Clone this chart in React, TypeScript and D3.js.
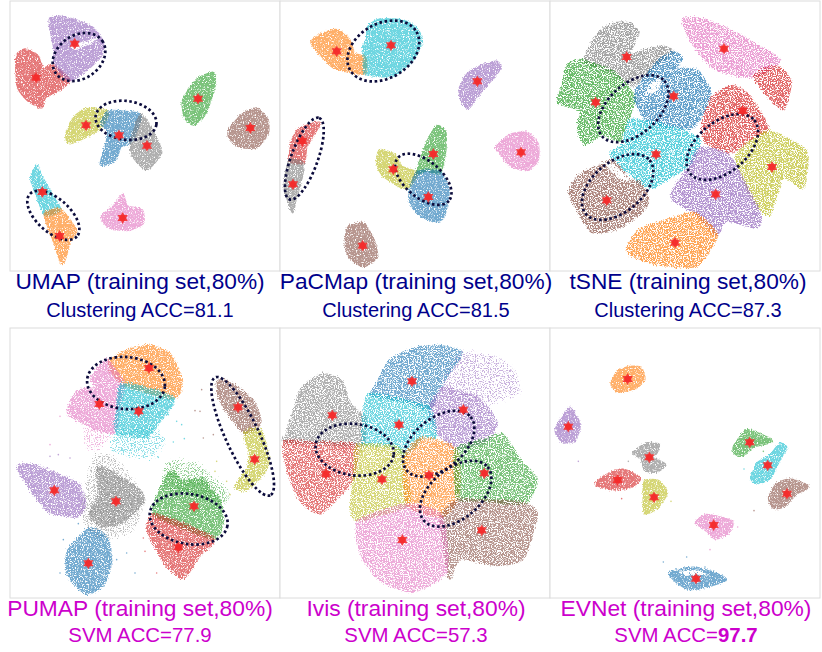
import * as d3 from "d3";

type Pt = [number, number];
type Blob = [string, Pt[]];
type Ring = [number, number, number, number, number];

const classNames = ["blue", "orange", "green", "red", "purple", "brown", "pink", "gray", "olive", "cyan"];

// outlines of each cluster, in each panel's own units
const umapBlobs: Blob[] = [
  ["red", [[50,170],[75,148],[110,165],[130,205],[160,195],[208,240],[175,270],[135,290],[125,320],[85,300],[55,260]]],
  ["purple", [[150,58],[180,50],[230,62],[280,85],[310,130],[300,170],[250,215],[208,240],[165,190],[165,150],[155,100]]],
  ["olive", [[200,400],[225,350],[265,325],[322,335],[310,370],[285,395],[210,428]]],
  ["blue", [[322,335],[370,335],[422,345],[395,420],[360,440],[345,480],[303,492],[320,430],[325,390],[305,370]]],
  ["gray", [[422,345],[450,380],[475,430],[482,460],[440,507],[398,465],[395,420]]],
  ["green", [[550,300],[590,240],[640,218],[642,260],[615,340],[580,372],[555,350]]],
  ["brown", [[688,390],[725,345],[770,325],[802,360],[802,400],[770,440],[720,438],[690,415]]],
  ["cyan", [[110,495],[122,525],[150,575],[180,628],[135,642],[110,580],[95,535]]],
  ["orange", [[135,642],[180,628],[228,690],[208,725],[187,790],[160,715]]],
  ["pink", [[305,650],[340,620],[368,585],[380,618],[425,630],[428,668],[385,688],[330,682]]],
];
const umapCenters: Pt[] = [[108,232],[224,130],[258,375],[357,405],[441,436],[594,295],[751,383],[127,575],[179,707],[368,653]];
const umapRings: Ring[] = [[237,170,85,65,-35],[378,360,92,58,8],[160,645,95,50,42]];
const umapHoles: Pt[][] = [[[215,135],[270,118],[300,112],[262,135],[225,150]]];

const pacmapBlobs: Blob[] = [
  ["orange", [[95,125],[130,100],[170,90],[205,115],[222,160],[255,172],[255,218],[215,215],[160,200],[125,165]]],
  ["cyan", [[265,80],[300,58],[370,62],[410,85],[425,125],[395,180],[340,225],[285,225],[255,218],[255,170],[250,145],[262,115]]],
  ["purple", [[540,265],[565,220],[610,195],[650,185],[660,205],[610,265],[565,322],[545,300]]],
  ["red", [[38,420],[60,385],[118,368],[95,410],[78,440],[70,488],[30,480]]],
  ["gray", [[30,480],[70,488],[60,550],[45,600],[38,635],[25,600],[15,560],[20,515]]],
  ["pink", [[650,440],[690,405],[740,398],[772,430],[772,480],[740,508],[690,495],[660,455]]],
  ["green", [[472,378],[495,395],[495,450],[480,515],[440,510],[410,518],[430,460],[450,410]]],
  ["olive", [[292,490],[300,450],[345,465],[365,500],[410,518],[390,555],[365,560],[310,525]]],
  ["blue", [[410,518],[440,510],[480,515],[505,570],[490,650],[460,662],[415,640],[390,600],[395,555]]],
  ["brown", [[205,682],[250,670],[280,720],[290,770],[250,797],[210,770],[198,735]]],
];
const pacmapCenters: Pt[] = [[170,153],[333,135],[592,243],[67,422],[39,552],[723,456],[460,461],[340,507],[445,590],[248,736]];
const pacmapRings: Ring[] = [[310,152,115,82,-30],[73,475,130,40,-70],[430,537,100,55,40]];

const tsneBlobs: Blob[] = [
  ["gray", [[150,95],[195,70],[240,70],[265,95],[240,165],[285,150],[340,140],[368,155],[320,190],[250,255],[190,215],[105,180]]],
  ["green", [[55,195],[95,180],[190,215],[255,290],[240,340],[210,420],[160,400],[105,430],[85,375],[95,330],[25,305],[40,255]]],
  ["blue", [[368,155],[395,175],[380,205],[440,210],[480,270],[470,320],[430,380],[380,380],[300,365],[260,310],[260,270],[320,190]]],
  ["cyan", [[240,360],[300,365],[380,385],[450,420],[420,490],[370,525],[310,560],[270,545],[185,465],[215,440],[225,410]]],
  ["brown", [[165,490],[190,480],[240,540],[270,545],[295,600],[270,640],[200,685],[130,695],[90,640],[60,575],[90,525]]],
  ["pink", [[400,58],[470,60],[550,95],[620,135],[690,180],[620,225],[560,225],[490,200],[430,130]]],
  ["red", [[615,225],[680,200],[722,240],[700,325],[650,280]]],
  ["red", [[490,290],[550,258],[600,290],[655,385],[610,410],[545,455],[470,425],[460,370]]],
  ["olive", [[650,395],[700,410],[770,455],[760,560],[700,530],[660,640],[620,610],[560,470]]],
  ["purple", [[450,445],[530,460],[570,520],[630,640],[620,680],[530,660],[500,700],[440,640],[365,590],[420,500]]],
  ["orange", [[400,645],[440,640],[500,705],[440,795],[320,790],[235,755],[270,690]]],
];
const tsneCenters: Pt[] = [[230,170],[137,306],[371,288],[318,462],[170,600],[522,145],[578,332],[666,500],[497,582],[375,727]];
const tsneRings: Ring[] = [[250,325,125,75,-42],[517,440,125,75,-40],[203,560,125,75,-40]];
const tsneHoles: Pt[][] = [
  [[165,490],[190,490],[240,540],[200,530]],
  [[300,250],[335,235],[325,270],[285,285]],
];

const pumapBlobs: Blob[] = [
  ["orange", [[328,115],[380,80],[450,65],[510,90],[545,170],[520,220],[370,178]]],
  ["pink", [[315,110],[330,115],[370,178],[355,250],[345,322],[285,310],[205,265],[235,200],[290,190],[275,160]]],
  ["cyan", [[370,178],[520,220],[470,300],[440,335],[350,322],[355,250]]],
  ["brown", [[655,170],[690,175],[760,230],[780,295],[735,325],[690,270],[660,220]]],
  ["olive", [[735,325],[780,315],[805,400],[790,445],[740,495],[708,485],[745,430],[750,380]]],
  ["purple", [[55,430],[90,420],[160,445],[235,480],[255,540],[230,575],[150,560],[105,510]]],
  ["gray", [[295,430],[350,450],[420,500],[430,530],[370,590],[310,605],[270,570],[300,510]]],
  ["green", [[515,440],[550,470],[610,465],[660,530],[668,590],[640,640],[465,570],[480,500]]],
  ["red", [[465,570],[640,640],[600,690],[550,760],[500,720],[445,620]]],
  ["blue", [[270,612],[320,640],[332,710],[310,780],[260,805],[205,750],[205,680]]],
];
const pumapFaint: Blob[] = [
  ["gray", [[285,395],[350,400],[440,520],[400,620],[300,640],[250,570]]],
  ["cyan", [[345,330],[470,310],[500,350],[460,400],[345,380]]],
  ["pink", [[260,310],[340,325],[300,375],[265,370]]],
  ["green", [[510,410],[600,420],[690,500],[670,540],[500,480]]],
];
const pumapCenters: Pt[] = [[447,130],[298,238],[416,260],[714,248],[764,404],[163,497],[348,530],[582,545],[535,668],[265,716]];
const pumapRings: Ring[] = [[378,175,117,78,5],[728,335,195,50,65],[566,583,118,75,10]];
const pumapStrays: [string, number, number][] = [
  ["cyan",553,342],["cyan",520,352],["cyan",475,398],["cyan",530,290],["cyan",545,300],["cyan",505,270],
  ["brown",585,258],["brown",605,195],["brown",640,330],["brown",610,340],["brown",600,260],
  ["olive",650,410],["olive",680,470],["olive",645,440],["olive",690,510],
  ["blue",380,685],["blue",405,745],["blue",350,705],["blue",190,645],["blue",180,745],["blue",235,597],
  ["red",435,680],["red",430,640],["red",470,745],
  ["purple",175,390],["purple",210,400],["purple",150,395],
  ["pink",180,275],["pink",150,360],
];

const ivisBlobs: Blob[] = [
  ["blue", [[285,190],[330,110],[410,70],[480,65],[545,85],[490,170],[450,250],[380,230],[275,210]]],
  ["purple", [[490,190],[530,200],[600,225],[650,290],[625,345],[530,370],[470,320],[450,250]]],
  ["gray", [[25,320],[65,195],[130,150],[185,170],[210,240],[255,280],[250,365],[230,362],[110,355],[15,350]]],
  ["red", [[15,352],[110,355],[230,362],[215,470],[120,565],[60,520],[25,440]]],
  ["cyan", [[265,210],[380,230],[450,250],[468,335],[430,340],[378,390],[340,365],[270,360],[250,350]]],
  ["olive", [[270,360],[340,365],[378,390],[375,440],[385,540],[235,585],[215,550],[225,430],[230,365]]],
  ["orange", [[378,390],[430,340],[530,375],[535,520],[485,575],[385,540]]],
  ["green", [[530,375],[620,345],[670,330],[720,405],[770,465],[735,535],[600,525],[535,520]]],
  ["brown", [[535,525],[600,528],[730,535],[770,570],[730,700],[650,720],[540,700],[510,760],[490,640],[485,575]]],
  ["pink", [[235,590],[385,540],[485,575],[500,740],[400,800],[310,770],[250,700]]],
];
const ivisFaint: Blob[] = [
  ["purple", [[545,85],[640,95],[700,125],[728,195],[650,235],[600,225],[490,190]]],
];
const ivisCenters: Pt[] = [[396,170],[550,255],[157,272],[357,300],[138,448],[306,464],[447,452],[613,446],[605,617],[367,646]];
const ivisRings: Ring[] = [[224,375,118,77,8],[476,357,125,75,-40],[527,507,125,75,-40]];

const evnetBlobs: Blob[] = [
  ["orange", [[185,175],[205,140],[240,128],[272,130],[282,165],[255,190],[205,200]]],
  ["purple", [[18,315],[60,250],[88,300],[75,345],[40,352]]],
  ["gray", [[250,385],[290,357],[325,360],[320,385],[300,395],[345,420],[320,440],[285,435],[275,400]]],
  ["red", [[138,478],[170,452],[218,436],[270,460],[245,485],[190,494]]],
  ["olive", [[285,470],[325,470],[350,505],[320,550],[285,565],[282,520]]],
  ["green", [[553,365],[590,318],[625,328],[665,350],[610,365],[575,392],[555,385]]],
  ["cyan", [[605,460],[625,415],[660,395],[690,358],[708,370],[685,410],[660,460],[620,475]]],
  ["brown", [[658,520],[680,480],[720,465],[775,485],[740,505],[700,545],[670,548]]],
  ["pink", [[438,595],[470,572],[545,590],[535,625],[495,640],[465,610]]],
  ["blue", [[360,745],[430,730],[490,745],[527,765],[470,785],[420,792],[385,775]]],
];
const evnetCenters: Pt[] = [[233,163],[55,306],[298,398],[203,466],[312,518],[599,353],[653,422],[711,507],[491,601],[438,762]];
const evnetHoles: Pt[][] = [[[385,742],[440,737],[478,752],[445,750],[410,752]]];
const evnetStrays: [string, number, number][] = [
  ["purple",85,410],["gray",235,410],["red",215,522],["olive",363,530],["cyan",582,433],["green",640,380],
  ["brown",612,558],["pink",563,607],["pink",480,675],["blue",340,712],["blue",410,697],["blue",465,727],
];

const topTitles = ["UMAP (training set,80%)", "PaCMap (training set,80%)", "tSNE (training set,80%)"];
const topScores = ["Clustering ACC=81.1", "Clustering ACC=81.5", "Clustering ACC=87.3"];
const bottomTitles = ["PUMAP (training set,80%)", "Ivis (training set,80%)", "EVNet (training set,80%)"];
const bottomScores = ["SVM ACC=77.9", "SVM ACC=57.3", "SVM ACC="];

const color = d3.scaleOrdinal<string, string>().domain(classNames).range(d3.schemeCategory10);
const outline = d3.line().curve(d3.curveCardinalClosed.tension(0.4));
const triangle = d3.symbol().type(d3.symbolTriangle).size(46);

const PANEL = 270;

// noise only gives the fill its grain and frayed edge, the shapes come from the outlines
function Grain({ id, slope, keep, fray, seed }: { id: string; slope: number; keep: number; fray: number; seed: number }) {
  return (
    <filter id={id} x="-15%" y="-15%" width="130%" height="130%" colorInterpolationFilters="sRGB">
      <feTurbulence type="fractalNoise" baseFrequency="0.85" numOctaves="2" seed={seed} result="noise" />
      <feDisplacementMap in="SourceGraphic" in2="noise" scale={fray} xChannelSelector="R" yChannelSelector="G" result="frayed" />
      <feColorMatrix in="noise" type="matrix" values={`0 0 0 0 0  0 0 0 0 0  0 0 0 0 0  ${slope} 0 0 0 ${keep}`} result="mask" />
      <feComposite in="frayed" in2="mask" operator="in" result="grained" />
      <feGaussianBlur in="grained" stdDeviation="0.4" />
    </filter>
  );
}

function Panel(props: {
  left: number; top: number; x0: number; y0: number;
  blobs: Blob[]; faint?: Blob[]; holes?: Pt[][]; strays?: [string, number, number][];
  centers: Pt[]; rings?: Ring[]; grain: string; opacity: number;
}) {
  const { left, top, x0, y0, blobs, faint = [], holes = [], strays = [], centers, rings = [], grain, opacity } = props;
  const x = d3.scaleLinear().domain([x0, x0 + 810]).range([left, left + PANEL]);
  const y = d3.scaleLinear().domain([y0, y0 + 810]).range([top, top + PANEL]);
  const toPath = (pts: Pt[]) => outline(pts.map(([a, b]) => [x(a), y(b)] as Pt)) ?? "";

  return (
    <g>
      <rect x={left} y={top} width={PANEL} height={PANEL} fill="#fff" stroke="#dcdcdc" strokeWidth="1" />
      {faint.map(([name, pts], i) => (
        <path key={`f${i}`} d={toPath(pts)} fill={color(name)} opacity="0.5" filter="url(#grain-faint)" />
      ))}
      {blobs.map(([name, pts], i) => (
        <path key={i} d={toPath(pts)} fill={color(name)} stroke={color(name)} strokeWidth="3" strokeLinejoin="round" opacity={opacity} filter={`url(#${grain})`} />
      ))}
      {holes.map((pts, i) => (
        <path key={`h${i}`} d={toPath(pts)} fill="#fff" filter="url(#grain-hole)" />
      ))}
      {strays.map(([name, a, b], i) => (
        <circle key={`s${i}`} cx={x(a)} cy={y(b)} r="0.8" fill={color(name)} fillOpacity="0.6" />
      ))}
      {rings.map(([cx, cy, rx, ry, angle], i) => (
        <ellipse
          key={`r${i}`}
          cx={x(cx)}
          cy={y(cy)}
          rx={x(cx + rx) - x(cx)}
          ry={y(cy + ry) - y(cy)}
          transform={`rotate(${angle} ${x(cx)} ${y(cy)})`}
          fill="none"
          stroke="#0c0c3c"
          strokeWidth="2.7"
          strokeDasharray="2.6 2.6"
        />
      ))}
      {centers.map(([a, b], i) => (
        <g key={`c${i}`} transform={`translate(${x(a)},${y(b)})`} fill="#f52a2a" fillOpacity="0.85">
          <path d={triangle() ?? ""} />
          <path d={triangle() ?? ""} transform="rotate(180)" />
        </g>
      ))}
    </g>
  );
}

export default function App() {
  const centersX = [140, 416, 688];
  const centersXLow = [140, 416, 686];
  const font = "Liberation Sans, Arial, sans-serif";

  return (
    <svg width={822} height={652} style={{ position: "absolute", left: 0, top: 0, background: "#fff" }}>
      <defs>
        <Grain id="grain-dense" slope={5} keep={-1.3} fray={4} seed={3} />
        <Grain id="grain-mid" slope={6} keep={-1.9} fray={7} seed={5} />
        <Grain id="grain-sparse" slope={8} keep={-3.2} fray={6} seed={8} />
        <Grain id="grain-faint" slope={10} keep={-5.2} fray={14} seed={11} />
        <Grain id="grain-hole" slope={8} keep={-2.6} fray={4} seed={13} />
      </defs>

      <Panel left={10} top={1} x0={30} y0={2} blobs={umapBlobs} holes={umapHoles} centers={umapCenters} rings={umapRings} grain="grain-dense" opacity={0.62} />
      <Panel left={280} top={1} x0={0} y0={2} blobs={pacmapBlobs} centers={pacmapCenters} rings={pacmapRings} grain="grain-dense" opacity={0.62} />
      <Panel left={550} top={1} x0={0} y0={2} blobs={tsneBlobs} holes={tsneHoles} centers={tsneCenters} rings={tsneRings} grain="grain-sparse" opacity={0.7} />
      <Panel left={10} top={328} x0={30} y0={10} blobs={pumapBlobs} faint={pumapFaint} strays={pumapStrays} centers={pumapCenters} rings={pumapRings} grain="grain-mid" opacity={0.62} />
      <Panel left={280} top={328} x0={0} y0={10} blobs={ivisBlobs} faint={ivisFaint} centers={ivisCenters} rings={ivisRings} grain="grain-sparse" opacity={0.62} />
      <Panel left={550} top={328} x0={0} y0={10} blobs={evnetBlobs} holes={evnetHoles} strays={evnetStrays} centers={evnetCenters} grain="grain-dense" opacity={0.62} />

      <g fontFamily={font} textAnchor="middle" fill="#00008b">
        {topTitles.map((t, i) => (
          <text key={t} x={centersX[i]} y={289} fontSize={22.7}>{t}</text>
        ))}
        {topScores.map((t, i) => (
          <text key={t} x={centersX[i]} y={317} fontSize={20}>{t}</text>
        ))}
      </g>
      <g fontFamily={font} textAnchor="middle" fill="#cc00cc">
        {bottomTitles.map((t, i) => (
          <text key={t} x={centersXLow[i]} y={616} fontSize={22.8}>{t}</text>
        ))}
        {bottomScores.map((t, i) => (
          <text key={t} x={centersXLow[i]} y={642} fontSize={20.4}>
            {t}
            {i === 2 ? <tspan fontWeight="bold">97.7</tspan> : null}
          </text>
        ))}
      </g>
    </svg>
  );
}
